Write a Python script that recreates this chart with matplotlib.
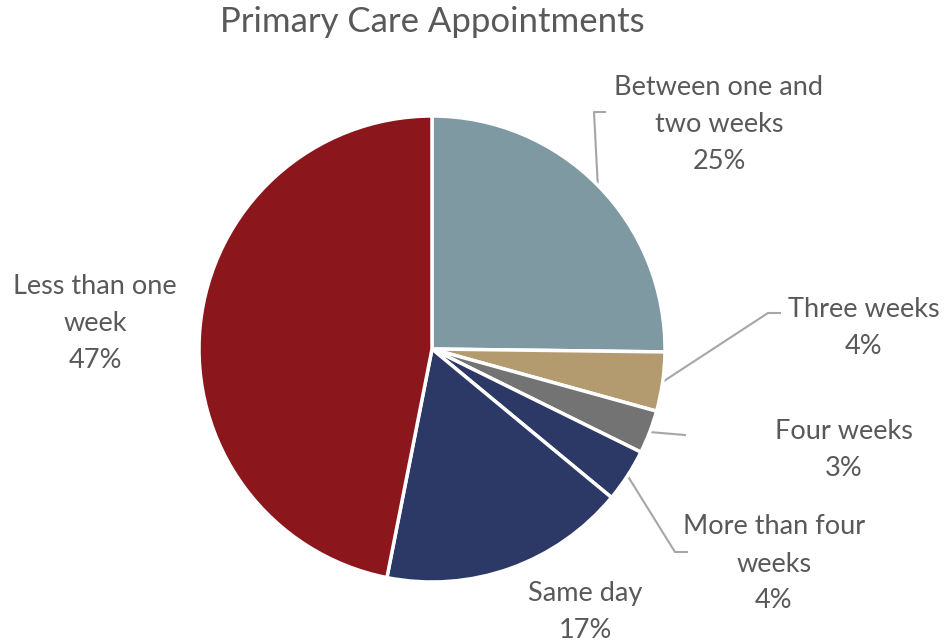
import numpy as np
import matplotlib
matplotlib.use("Agg")
import matplotlib.pyplot as plt

categories = ["Between one and\ntwo weeks", "Three weeks", "Four weeks",
              "More than four\nweeks", "Same day", "Less than one\nweek"]
values = [25.2, 4.1, 3.0, 3.7, 17.1, 46.9]
colors = ["#7F99A3", "#B39A6F", "#737373", "#2C3966", "#2C3966", "#8B171D"]
title = "Primary Care Appointments"

W, H = 944, 644
fig = plt.figure(figsize=(W / 100, H / 100), dpi=100)
ax = fig.add_axes([0, 0, 1, 1])

cx, cy, r = 432, H - 349, 233
wedges, _ = ax.pie(values, colors=colors, startangle=90, counterclock=False,
                   center=(cx, cy), radius=r, frame=True,
                   wedgeprops=dict(edgecolor="white", linewidth=2.5))
ax.set_xlim(0, W)
ax.set_ylim(0, H)
ax.set_aspect("equal")
ax.axis("off")

font = "Lato"
tcol = "#595959"
fig.text(432 / W, 1 - 22 / H, title, ha="center", va="center",
         fontsize=25, color=tcol, family=font)

# label positions (pixel coords from top-left) and leader elbows
label_pos = [(719, 124), (864, 328), (844, 450), (774, 564), (585, 612), (95, 323)]
elbows = [[(594, 112), (605, 112)], [(768, 313), (780, 313)], [(685, 435)],
          [(675, 552), (687, 552)], None, None]

for w, v, cat, (lx, ly), el in zip(wedges, values, categories, label_pos, elbows):
    ax.text(lx, H - ly, f"{cat}\n{round(v):.0f}%", ha="center", va="center",
            fontsize=19.5, color=tcol, family=font, linespacing=1.6)
    if el:
        mid = np.deg2rad((w.theta1 + w.theta2) / 2)
        sx, sy = cx + r * np.cos(mid), cy + r * np.sin(mid)
        xs = [sx] + [p[0] for p in el]
        ys = [sy] + [H - p[1] for p in el]
        ax.plot(xs, ys, color="#A6A6A6", lw=1.5, zorder=0.5)

fig.savefig("out.png", dpi=100)
